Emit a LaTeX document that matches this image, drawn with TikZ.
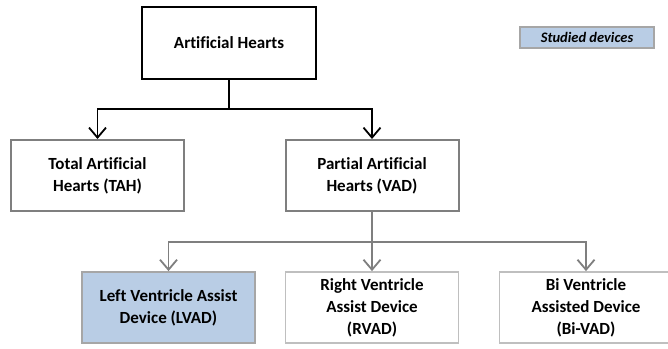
\documentclass[tikz,border=0pt]{standalone}
\usepackage{fontspec}
\setmainfont{Carlito}[Ligatures={NoCommon}]
\usetikzlibrary{arrows.meta}
\definecolor{boxgray}{HTML}{7F7F7F}
\definecolor{lightgray}{HTML}{BFBFBF}
\definecolor{midgray}{HTML}{A6A6A6}
\definecolor{studied}{HTML}{B9CDE5}
\tikzset{
  box/.style={draw, rectangle, align=center, font=\fontsize{17}{22}\selectfont\bfseries, inner sep=0pt},
  topbox/.style={box, draw=black, line width=1.8pt, minimum width=174pt, minimum height=72pt},
  midbox/.style={box, draw=boxgray, line width=2pt, minimum width=173pt, minimum height=71pt},
  lowbox/.style={box, draw=lightgray, line width=1.8pt, minimum width=173pt, minimum height=71pt},
  selbox/.style={lowbox, draw=midgray, fill=studied},
  legendbox/.style={draw=midgray, fill=studied, line width=1.4pt, minimum width=134pt, minimum height=21pt, inner sep=0pt, font=\fontsize{14.5}{16}\selectfont\bfseries\itshape},
  conn/.style={line width=1.8pt},
  arr/.style={conn, -{Straight Barb[length=10pt,width=17pt,line width=1.8pt]}},
  gconn/.style={line width=1.8pt, draw=boxgray},
  garr/.style={gconn, -{Straight Barb[length=10pt,width=17pt,line width=1.8pt]}}
}
\begin{document}
\begin{tikzpicture}[x=1pt,y=-1pt]
\useasboundingbox[fill=white] (0,0) rectangle (668,348);
\node[topbox] (AH) at (229,43) {Artificial Hearts};
\node[midbox] (TAH) at (97.5,175.5) {Total Artificial\\Hearts (TAH)};
\node[midbox] (PAH) at (372,175.5) {Partial Artificial\\Hearts (VAD)};
\node[selbox] (LVAD) at (168.5,307.5) {Left Ventricle Assist\\Device (LVAD)};
\node[lowbox] (RVAD) at (372,307.5) {Right Ventricle\\Assist Device\\(RVAD)};
\node[lowbox] (BIVAD) at (586,307.5) {Bi Ventricle\\Assisted Device\\(Bi-VAD)};
\node[legendbox] (LEG) at (587,37.5) {Studied devices};
\coordinate (j1) at (229,109);
\coordinate (j2) at (372,242);
\draw[conn] (AH.south) -- (j1);
\draw[arr] (j1) -| (TAH.north);
\draw[arr] (j1) -| (PAH.north);
\draw[gconn] (PAH.south) -- (j2);
\draw[garr] (j2) -| (LVAD.north);
\draw[garr] (j2) -- (RVAD.north);
\draw[garr] (j2) -| (BIVAD.north);
\end{tikzpicture}
\end{document}
